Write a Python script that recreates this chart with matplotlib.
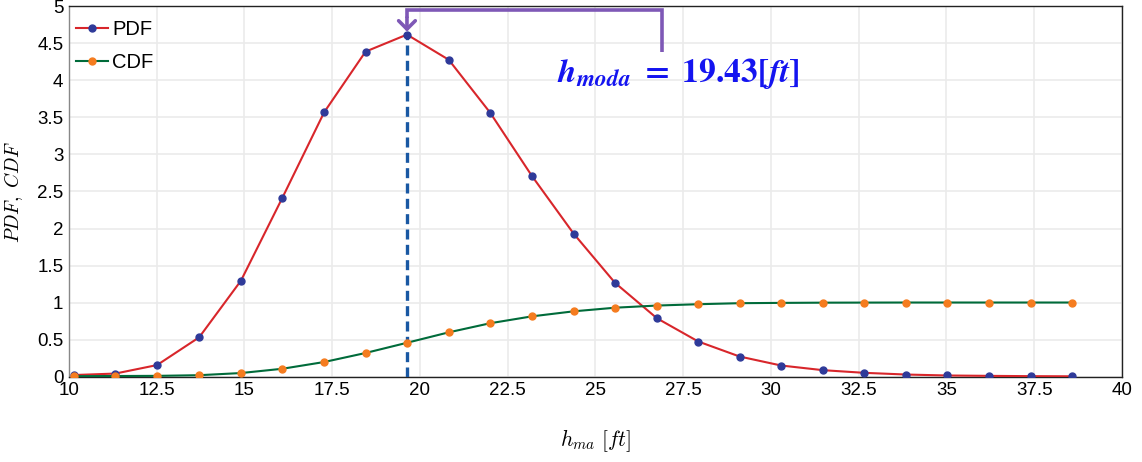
import matplotlib
matplotlib.use("Agg")

import matplotlib.pyplot as plt
from matplotlib.ticker import MultipleLocator, FormatStrFormatter

# alturas de clase [ft]
h_ma = [10.13, 11.32, 12.51, 13.71, 14.90, 16.08, 17.27, 18.45, 19.63,
        20.82, 22.00, 23.19, 24.38, 25.56, 26.75, 27.93, 29.11, 30.29,
        31.48, 32.66, 33.85, 35.03, 36.22, 37.40, 38.59]

pdf = [0.02, 0.04, 0.155, 0.53, 1.295, 2.415, 3.57, 4.39, 4.62,
       4.28, 3.565, 2.71, 1.93, 1.265, 0.788, 0.473, 0.27, 0.149,
       0.086, 0.05, 0.027, 0.014, 0.009, 0.005, 0.003]

cdf = [0.005, 0.007, 0.009, 0.018, 0.047, 0.105, 0.196, 0.318, 0.456,
       0.597, 0.72, 0.813, 0.881, 0.93, 0.959, 0.977, 0.991, 0.995,
       0.998, 0.999, 1.0, 1.0, 1.0, 1.0, 1.0]

h_moda_txt = "19.43"

plt.rcParams["font.family"] = ["Liberation Sans", "DejaVu Sans"]
plt.rcParams["mathtext.fontset"] = "cm"

fig = plt.figure(figsize=(11.42, 4.62), dpi=100)
ax = fig.add_axes([0.0604, 0.185, 0.922, 0.801])

# curvas
ax.plot(h_ma, pdf, color="#d8262b", lw=1.5, marker="o", ms=5,
        mfc="#2f3a99", mec="#2f3a99", label="PDF", zorder=4)
ax.plot(h_ma, cdf, color="#006b3a", lw=1.5, marker="o", ms=5,
        mfc="#f57c1f", mec="#f57c1f", label="CDF", zorder=4)

# moda
i_max = pdf.index(max(pdf))
x_m, y_m = h_ma[i_max], pdf[i_max]
ax.plot([x_m, x_m], [0, y_m], color="#1958a3", lw=2.4,
        linestyle=(0, (3, 1.6)), zorder=3)

# corchete de la anotacion
top = 4.95
x_r = x_m + 7.28
ax.plot([x_r, x_r, x_m, x_m], [y_m - 0.235, top, top, top - 0.1],
        color="#7e58b6", lw=2.6, solid_capstyle="butt",
        solid_joinstyle="miter", zorder=5, clip_on=False)
ax.annotate("", xy=(x_m, y_m + 0.04), xytext=(x_m, top - 0.1),
            arrowprops=dict(arrowstyle="->,head_length=0.6,head_width=0.6",
                            color="#7e58b6", lw=2.6, shrinkA=0, shrinkB=0),
            zorder=5)
ax.text(x_m + 7.74, 4.1,
        r"$\mathbfit{h}_{\mathbfit{moda}}\ \mathbf{=}\ \mathbf{" + h_moda_txt
        + r"[}\mathbfit{ft}\mathbf{]}$",
        color="#1414f0", fontsize=24, ha="center", va="center", zorder=6,
        math_fontfamily="stix")

# ejes
ax.set_xlim(10, 40)
ax.set_ylim(0, 5)
ax.xaxis.set_major_locator(MultipleLocator(2.5))
ax.yaxis.set_major_locator(MultipleLocator(0.5))
ax.xaxis.set_major_formatter(FormatStrFormatter("%g"))
ax.yaxis.set_major_formatter(FormatStrFormatter("%g"))
ax.tick_params(length=0, labelsize=13.5, pad=4)
ax.grid(color="#ebebeb", lw=1.2)
ax.set_axisbelow(True)
for s in ax.spines.values():
    s.set_color("#222222")
    s.set_linewidth(1.0)
ax.spines["left"].set_color("#888888")

ax.set_xlabel(r"$h_{ma}\ [ft]$", fontsize=15.5, labelpad=20)
ax.set_ylabel(r"$PDF,\ CDF$", fontsize=14, labelpad=9)

ax.legend(loc="upper left", bbox_to_anchor=(-0.006, 1.0), frameon=False,
          fontsize=14.5, handlelength=1.6, handletextpad=0.2,
          labelspacing=0.72, borderaxespad=0.25)

fig.savefig("out.png", dpi=100)
